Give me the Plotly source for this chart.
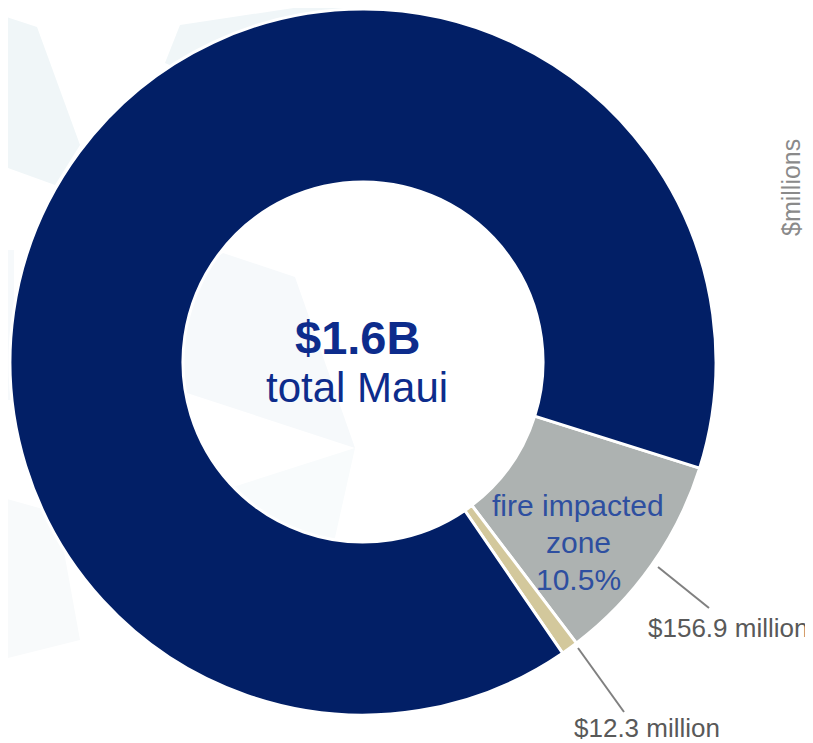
import plotly.graph_objects as go

# Data ($ millions)
categories = ["fire impacted zone", "other fire impacted", "rest of Maui"]
values = [156.9, 12.3, 1430.8]
colors = ["#ADB2B1", "#D3C89C", "#021F66"]

# page body has an 8px margin; size the figure so it fits the window
OFF = 8
W, H = 813 - OFF, 743 - OFF

def px(x):
    return (x - OFF) / W

def py(y):
    return 1 - (y - OFF) / H

fig = go.Figure(go.Pie(
    labels=categories,
    values=values,
    hole=0.51,
    sort=False,
    direction="clockwise",
    rotation=107.5,
    marker=dict(colors=colors, line=dict(color="white", width=3)),
    textinfo="none",
    hoverinfo="label+value",
    showlegend=False,
    domain=dict(x=[px(363 - 353), px(363 + 353)], y=[py(362 + 353), py(362 - 353)]),
))

# faint background watermark shapes
def poly(pts, col):
    d = "M " + " L ".join(f"{px(a)},{py(b)}" for a, b in pts) + " Z"
    return dict(type="path", xref="paper", yref="paper", path=d,
                fillcolor=col, line=dict(width=0), layer="below")

shapes = [
    poly([(0, 15), (37, 27), (80, 145), (55, 185), (0, 165)], "#F0F6F8"),
    poly([(180, 25), (347, 0), (340, 15), (250, 100), (165, 63)], "#F0F6F8"),
    poly([(223, 253), (295, 277), (355, 448), (187, 393), (150, 300)], "#F6F9FB"),
    poly([(355, 448), (233, 487), (300, 580), (330, 560)], "#F8FBFC"),
    poly([(0, 250), (14, 250), (14, 400), (0, 400)], "#F6F9FB"),
    poly([(0, 497), (57, 513), (80, 640), (0, 660)], "#F8FAFB"),
]
# leader lines
shapes.append(dict(type="line", xref="paper", yref="paper",
                   x0=px(658), y0=py(567), x1=px(709), y1=py(608),
                   line=dict(color="#808080", width=2)))
shapes.append(dict(type="line", xref="paper", yref="paper",
                   x0=px(578), y0=py(648), x1=px(624), y1=py(712),
                   line=dict(color="#808080", width=2)))

FONT = "Liberation Sans, Arial, sans-serif"
zone_lines = ["fire impacted", "zone", "10.5%"]
zone_y = [505, 542, 579]
ann = [
    dict(x=px(357), y=py(337), text="<b>$1.6B</b>",
         font=dict(size=47, color="#0D2C8C", family=FONT)),
    dict(x=px(357), y=py(387), text="total Maui",
         font=dict(size=42, color="#0D2C8C", family=FONT)),
    dict(x=px(728), y=py(628), text="$156.9 million",
         font=dict(size=26, color="#595959", family=FONT)),
    dict(x=px(647), y=py(728), text="$12.3 million",
         font=dict(size=26, color="#595959", family=FONT)),
    dict(x=px(791), y=py(188), text="$millions", textangle=-90,
         font=dict(size=25, color="#8A8A8A", family=FONT)),
]
for t, yy in zip(zone_lines, zone_y):
    ann.append(dict(x=px(578), y=py(yy), text=t,
                    font=dict(size=30, color="#2E4FA0", family=FONT)))
for a in ann:
    a.update(xref="paper", yref="paper", showarrow=False,
             xanchor="center", yanchor="middle")

fig.update_layout(
    width=W, height=H,
    margin=dict(l=0, r=0, t=0, b=0),
    paper_bgcolor="white", plot_bgcolor="white",
    shapes=shapes, annotations=ann,
)

fig.write_html("out.html")
